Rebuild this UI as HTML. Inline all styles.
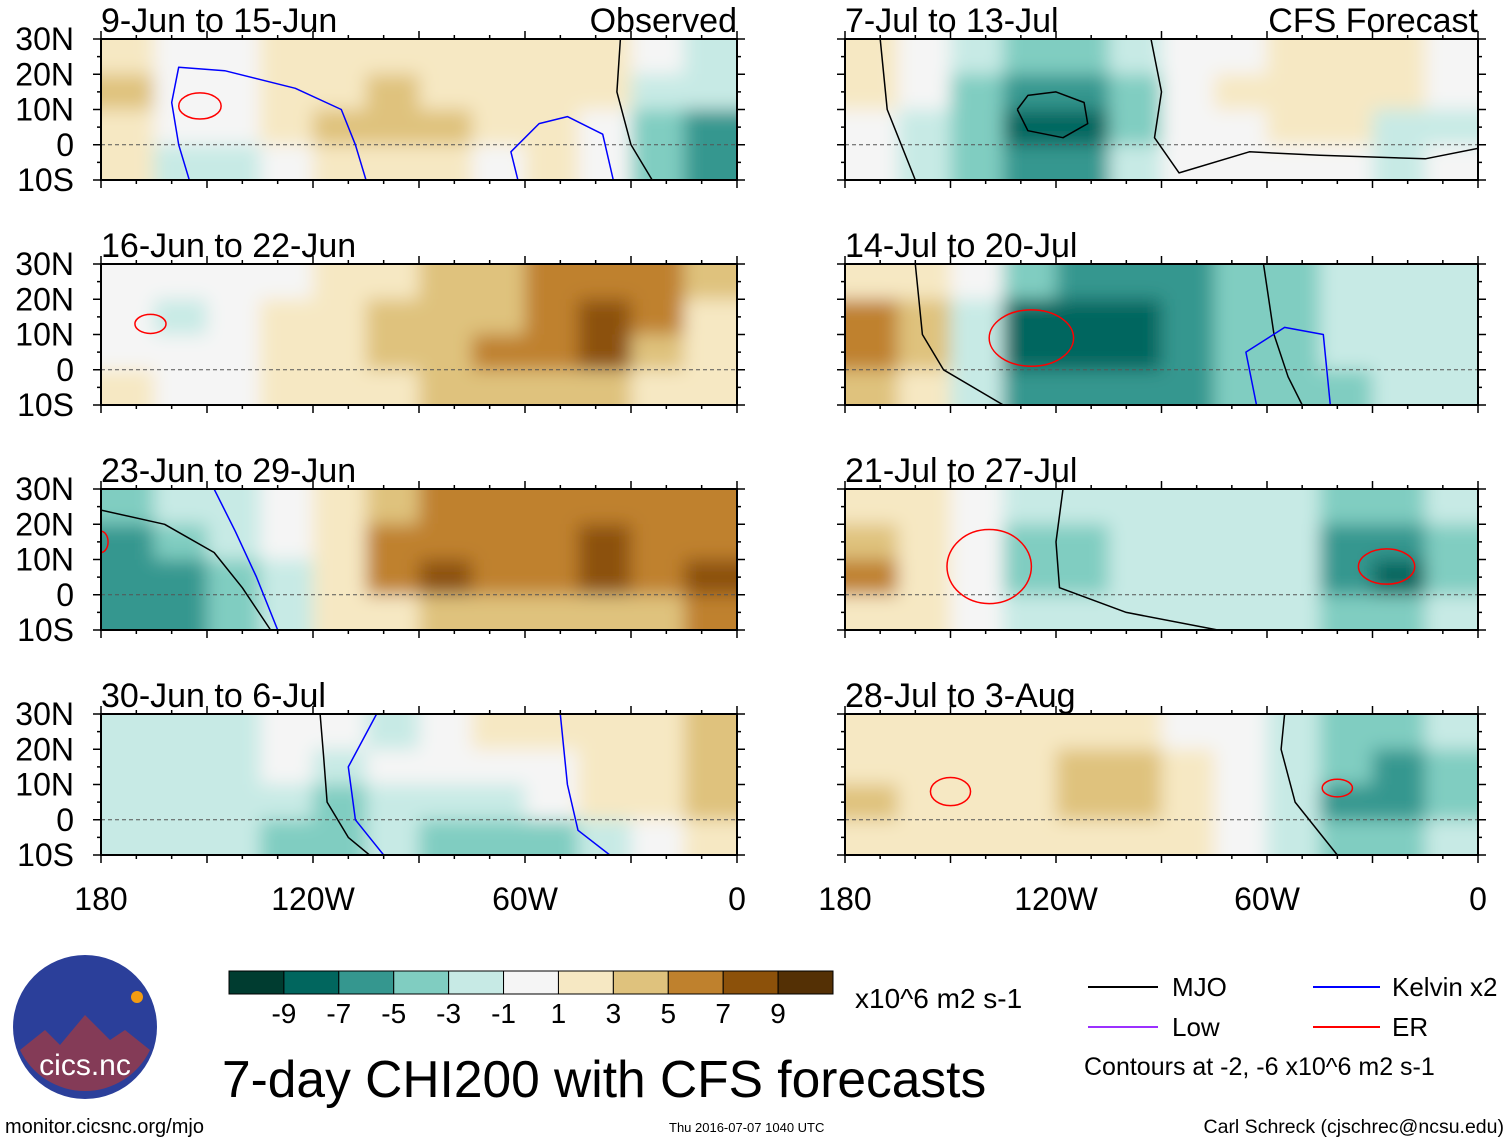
<!DOCTYPE html>
<html><head><meta charset="utf-8">
<style>
body{margin:0;background:#fff;}
svg text{font-family:"Liberation Sans",sans-serif;}
</style></head>
<body>
<svg id="chart" width="1510" height="1142" xmlns="http://www.w3.org/2000/svg">
<defs>
<filter id="blur" x="-5%" y="-5%" width="110%" height="110%"><feGaussianBlur stdDeviation="9"/></filter>
</defs>
<g id="panels"></g>
<g id="colorbar"></g>
<text x="855" y="1008" font-size="28">x10^6 m2 s-1</text>
<text x="222" y="1097" font-size="51.5">7-day CHI200 with CFS forecasts</text>
<g>
<line x1="1088" y1="987" x2="1158" y2="987" stroke="#000" stroke-width="2"/>
<text x="1172" y="996" font-size="26">MJO</text>
<line x1="1313" y1="987" x2="1380" y2="987" stroke="#0000ff" stroke-width="2"/>
<text x="1392" y="996" font-size="26">Kelvin x2</text>
<line x1="1088" y1="1027" x2="1158" y2="1027" stroke="#9b30ff" stroke-width="2"/>
<text x="1172" y="1036" font-size="26">Low</text>
<line x1="1313" y1="1027" x2="1380" y2="1027" stroke="#ff0000" stroke-width="2"/>
<text x="1392" y="1036" font-size="26">ER</text>
<text x="1084" y="1075" font-size="25">Contours at -2, -6 x10^6 m2 s-1</text>
</g>
<g>
<circle cx="85" cy="1027" r="72" fill="#2b3f9a"/>
<path d="M20 1050 L45 1030 L60 1045 L85 1015 L110 1040 L125 1030 L150 1050 A72 72 0 0 1 20 1050Z" fill="#c0392b" opacity="0.6"/>
<circle cx="137" cy="997" r="6" fill="#f39c12"/>
<text x="85" y="1075" font-size="30" fill="#fff" text-anchor="middle">cics.nc</text>
</g>
<text x="5" y="1133" font-size="20">monitor.cicsnc.org/mjo</text>
<text x="669" y="1132" font-size="13">Thu 2016-07-07 1040 UTC</text>
<text x="1504" y="1133" font-size="19.5" text-anchor="end">Carl Schreck (cjschrec@ncsu.edu)</text>
</svg>
<script>
const colors = ["#003c30","#01665e","#35978f","#80cdc1","#c7eae5","#f5f5f5","#f6e8c3","#dfc27d","#bf812d","#8c510a","#543005"];
const cbLabels = ["-9","-7","-5","-3","-1","1","3","5","7","9"];
const panelTitles = ["9-Jun to 15-Jun","16-Jun to 22-Jun","23-Jun to 29-Jun","30-Jun to 6-Jul","7-Jul to 13-Jul","14-Jul to 20-Jul","21-Jul to 27-Jul","28-Jul to 3-Aug"];
const latTicks = [30,20,10,0,-10];
const latLabels = ["30N","20N","10N","0","10S"];
const lonTicks = [180,120,60,0];
const lonLabels = ["180","120W","60W","0"];
const field1 = [[2,0,0,2,2,2,2,2,2,2,0,-2],[4,0,0,2,2,4,2,2,2,2,-2,-2],[2,0,0,2,4,4,4,2,2,0,-4,-6],[2,-2,-2,0,2,2,2,0,2,0,-4,-6]];
const field2 = [[0,0,0,0,2,2,4,4,6,6,6,4],[0,-2,0,2,2,4,4,4,6,8,6,2],[0,0,0,2,2,4,4,6,6,8,4,2],[2,0,0,2,2,2,4,4,4,4,2,2]];
const field3 = [[-4,-2,-2,0,2,4,6,6,6,6,6,6],[-6,-4,-2,0,2,6,6,6,6,8,6,6],[-6,-6,-4,-2,2,6,8,6,6,8,6,8],[-6,-6,-4,-2,2,2,4,4,4,4,4,6]];
const field4 = [[-2,-2,-2,0,0,-2,0,2,2,2,2,4],[-2,-2,-2,0,-2,0,0,0,0,2,2,4],[-2,-2,-2,-2,-4,-2,-2,-2,0,2,2,4],[-2,-2,-2,-4,-4,-2,-4,-4,-4,-2,0,2]];
const field5 = [[2,0,-2,-4,-4,-2,0,0,2,2,2,0],[2,0,-4,-6,-6,-4,0,2,2,2,2,0],[0,-2,-4,-8,-8,-4,0,0,2,2,-2,-2],[0,-2,-4,-6,-6,-2,0,0,0,0,-2,0]];
const field6 = [[2,2,0,-4,-6,-6,-6,-4,-4,-2,-2,-2],[6,4,-2,-8,-8,-8,-6,-4,-4,-2,-2,-2],[6,4,-2,-8,-8,-8,-6,-4,-4,-2,-2,-2],[4,2,-2,-6,-6,-6,-6,-4,-4,-4,-2,-2]];
const field7 = [[2,2,0,-2,-2,-2,-2,-2,-2,-4,-4,-2],[4,2,0,-4,-4,-2,-2,-2,-2,-6,-6,-4],[6,2,0,-4,-4,-2,-2,-2,-2,-6,-8,-4],[2,2,0,-2,-2,-2,-2,-2,-2,-4,-4,-2]];
const field8 = [[2,2,2,2,2,2,0,0,-2,-4,-4,-2],[2,2,2,2,4,4,2,0,-2,-4,-6,-4],[4,2,2,2,4,4,2,0,-2,-6,-6,-4],[2,2,2,2,2,2,2,0,-2,-4,-4,-2]];
const fields = [field1,field2,field3,field4,field5,field6,field7,field8];
const erPanel = [0,1,2,5,6,6,7,7];
const erLon = [152,166,180,127,139,26,150,40];
const erLat = [11,13,15,9,8,8,8,9];
const erRx = [6,4.4,2,12,12,8,5.7,4.3];
const erRy = [3.7,2.7,3,8,10.5,5,4,2.5];
const linePanel = [0,0,0,2,2,3,3,3,4,4,4,5,5,5,6,7];
const lineColor = ["#0000ff","#0000ff","#000","#000","#0000ff","#000","#0000ff","#0000ff","#000","#000","#000","#000","#000","#0000ff","#000","#000"];
const linePts = [
 [155,-10,158,0,160,12,158,22,145,21,125,16,112,10,108,0,105,-10],
 [62,-10,64,-2,56,6,48,8,38,3,35,-10],
 [33,30,34,15,30,0,24,-10],
 [180,24,162,20,148,12,140,2,132,-10],
 [148,30,142,18,136,5,130,-10],
 [118,30,117,18,116,5,110,-5,104,-10],
 [102,30,110,15,108,0,100,-10],
 [50,30,48,10,45,-3,36,-10],
 [170,30,168,10,160,-10],
 [131,10,128,14,120,15,112,12,111,6,118,2,128,4,131,10],
 [93,30,90,15,92,2,85,-8,65,-2,45,-3,15,-4,0,-1],
 [160,30,158,10,152,0,135,-10],
 [61,30,58,10,54,-2,50,-10],
 [63,-10,66,5,55,12,44,10,42,-10],
 [118,30,120,15,119,2,100,-5,74,-10],
 [55,30,56,20,52,5,40,-10]];

const NS="http://www.w3.org/2000/svg";
const panelsG=document.getElementById('panels');
function mk(tag,attrs,parent){const e=document.createElementNS(NS,tag);for(const k in attrs)e.setAttribute(k,attrs[k]);parent.appendChild(e);return e;}
const tops=[39,264,489,714];
function geom(i){const right=i>=4;return {x:right?845:101,w:right?633:636,y:tops[i%4],h:141};}
function xScale(g,lonW){return g.x+(180-lonW)/180*g.w;}
function yScale(g,lat){return g.y+(30-lat)/40*g.h;}
function colorOf(v){let k=Math.round((v+10)/2);return colors[Math.max(0,Math.min(10,k))];}

for(let i=0;i<8;i++){
  const g=geom(i);
  const pg=mk('g',{},panelsG);
  
  
  const cp=mk('clipPath',{id:'cp'+i},pg);
  mk('rect',{x:g.x,y:g.y,width:g.w,height:g.h},cp);
  const clipG=mk('g',{'clip-path':'url(#cp'+i+')'},pg);
  mk('rect',{x:g.x,y:g.y,width:g.w,height:g.h,fill:colorOf(fields[i][0][0])},clipG);
  const fg=mk('g',{filter:'url(#blur)'},clipG);
  const f=fields[i];
  for(let r=0;r<f.length;r++)for(let c=0;c<f[r].length;c++){
    const lon0=180-c*15, lat0=30-r*10;
    let x0=xScale(g,lon0),x1=xScale(g,lon0-15),y0=yScale(g,lat0),y1=yScale(g,lat0-10);
    if(c===0)x0-=30; if(c===11)x1+=30; if(r===0)y0-=30; if(r===3)y1+=30;
    const cell=mk('rect',{x:x0,y:y0,width:x1-x0+0.5,height:y1-y0+0.5,fill:colorOf(f[r][c])},fg);
    
    
  }
  mk('line',{x1:g.x,x2:g.x+g.w,y1:yScale(g,0),y2:yScale(g,0),stroke:'#555','stroke-dasharray':'4,3','stroke-width':1},clipG);
  for(let k=0;k<linePanel.length;k++){ if(linePanel[k]!==i)continue;
    const p=linePts[k];let pts=[];
    for(let j=0;j<p.length;j+=2)pts.push(xScale(g,p[j]).toFixed(1)+','+yScale(g,p[j+1]).toFixed(1));
    const pl=mk('polyline',{points:pts.join(' '),fill:'none',stroke:lineColor[k],'stroke-width':1.5,'stroke-linejoin':'round'},clipG);
    
    
  }
  for(let k=0;k<erPanel.length;k++){ if(erPanel[k]!==i)continue;
    const e=mk('ellipse',{cx:xScale(g,erLon[k]),cy:yScale(g,erLat[k]),rx:erRx[k]/180*g.w,ry:erRy[k]/40*g.h,fill:'none',stroke:'#ff0000','stroke-width':1.5},clipG);
    
    
  }
  mk('rect',{x:g.x,y:g.y,width:g.w,height:g.h,fill:'none',stroke:'#000','stroke-width':2},pg);
  for(let lon=180;lon>=0;lon-=10){const x=xScale(g,lon);const L=(lon%30===0)?8:4;
    mk('line',{x1:x,x2:x,y1:g.y,y2:g.y-L,stroke:'#000','stroke-width':1.5},pg);
    mk('line',{x1:x,x2:x,y1:g.y+g.h,y2:g.y+g.h+L,stroke:'#000','stroke-width':1.5},pg);}
  for(let lat=30;lat>=-10;lat-=5){const y=yScale(g,lat);const L=(lat%10===0)?8:4;
    mk('line',{x1:g.x,x2:g.x-L,y1:y,y2:y,stroke:'#000','stroke-width':1.5},pg);
    mk('line',{x1:g.x+g.w,x2:g.x+g.w+L,y1:y,y2:y,stroke:'#000','stroke-width':1.5},pg);}
  const t=mk('text',{x:g.x,y:g.y-7,'font-size':34},pg); t.textContent=panelTitles[i];
  
  
  if(i===0){const o=mk('text',{x:737,y:32,'font-size':34,'text-anchor':'end'},pg);o.textContent='Observed';}
  if(i===4){const o=mk('text',{x:1478,y:32,'font-size':34,'text-anchor':'end'},pg);o.textContent='CFS Forecast';}
  if(i<4){for(let k=0;k<latTicks.length;k++){const tt=mk('text',{x:74,y:yScale(g,latTicks[k])+11,'font-size':32,'text-anchor':'end'},pg);tt.textContent=latLabels[k];
    
    }}
  if(i%4===3){for(let k=0;k<lonTicks.length;k++){const tt=mk('text',{x:xScale(g,lonTicks[k]),y:910,'font-size':32,'text-anchor':'middle'},pg);tt.textContent=lonLabels[k];
    
    }}
}
const cb=document.getElementById('colorbar');
const cbx=229,cbw=604/11;
for(let k=0;k<11;k++){const r=mk('rect',{x:cbx+k*cbw,y:971,width:cbw,height:23,fill:colors[k],stroke:'#000','stroke-width':1},cb);
  
  }
for(let k=0;k<cbLabels.length;k++){const t=mk('text',{x:cbx+(k+1)*cbw,y:1023,'font-size':28,'text-anchor':'middle'},cb);t.textContent=cbLabels[k];
  
  }
</script>
</body></html>
